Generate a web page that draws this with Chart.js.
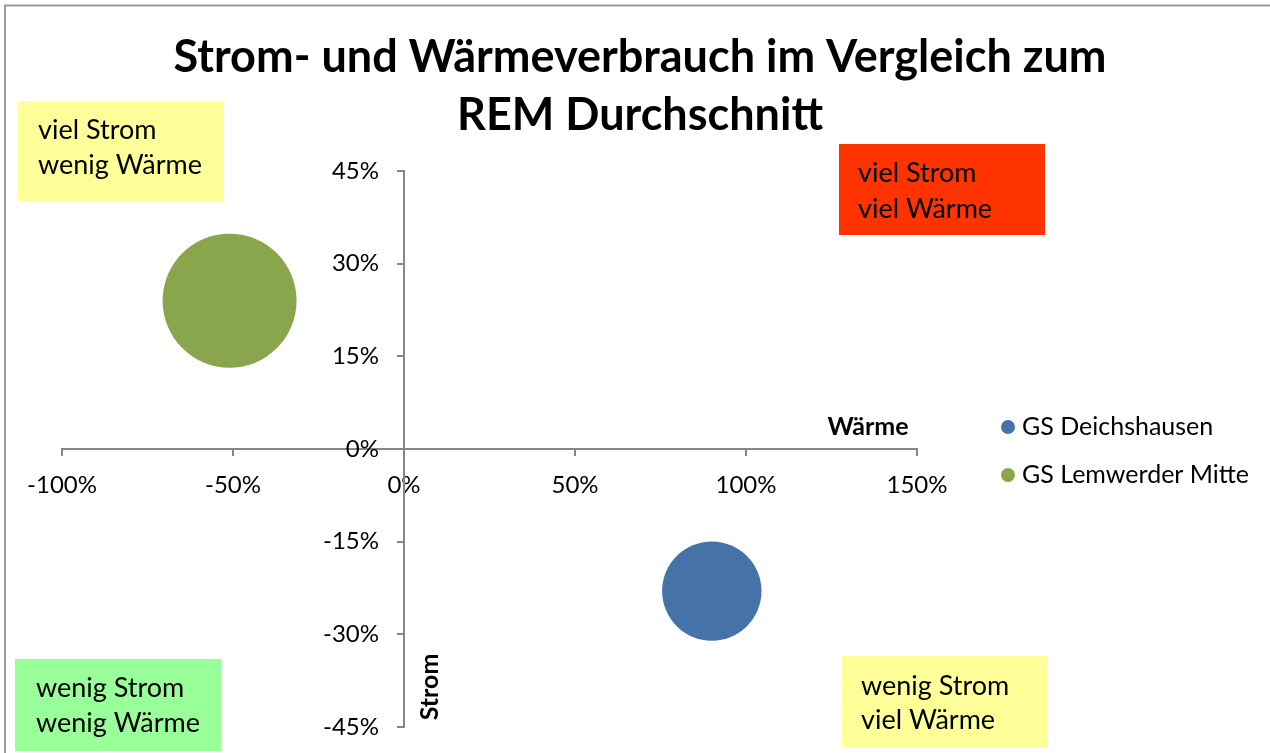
<!DOCTYPE html>
<html>
<head>
<meta charset="utf-8">
<script src="https://cdn.jsdelivr.net/npm/chart.js@4/dist/chart.umd.min.js"></script>
<style>
html,body{margin:0;padding:0;background:#fff;}
</style>
</head>
<body>
<canvas id="c" width="1270" height="753"></canvas>
<script>
// ---- data ----
const seriesNames = ['GS Deichshausen', 'GS Lemwerder Mitte'];
const waermeValues = [90, -51];      // x: Wärme, % vs. REM average
const stromValues = [-23, 24];       // y: Strom, % vs. REM average
const bubbleSizes = [55, 100];       // relative bubble size
const seriesColors = ['#4673A7', '#8AA64C'];
const xTicks = [-100, -50, 0, 50, 100, 150];
const yTicks = [-45, -30, -15, 0, 15, 30, 45];
const titleLines = ['Strom- und Wärmeverbrauch im Vergleich zum', 'REM Durchschnitt'];
const xAxisTitle = 'Wärme';
const yAxisTitle = 'Strom';
const quadrantLabels = [
  ['viel Strom', 'wenig Wärme'],
  ['viel Strom', 'viel Wärme'],
  ['wenig Strom', 'wenig Wärme'],
  ['wenig Strom', 'viel Wärme']
];

// ---- styles / layout ----
const FONT = 'Lato, Carlito, Calibri, sans-serif';
const MAX_R = 67;
const maxSize = Math.max(...bubbleSizes);
const PLOT = {left: 62, right: 917, top: 171, bottom: 727};

const datasets = seriesNames.map((name, i) => ({
  label: name,
  data: [{x: waermeValues[i], y: stromValues[i], r: MAX_R * Math.sqrt(bubbleSizes[i] / maxSize)}],
  backgroundColor: seriesColors[i],
  borderColor: seriesColors[i],
  borderWidth: 0
}));

const quadBoxes = [
  {x: 18, y: 101, w: 206, h: 100, fill: '#FFFF99', tx: 38, ty: [130, 165]},
  {x: 839, y: 144, w: 206, h: 91, fill: '#FF3300', tx: 858, ty: [173, 209]},
  {x: 15, y: 659, w: 206, h: 92, fill: '#99FF99', tx: 36, ty: [688, 723]},
  {x: 842, y: 656, w: 205, h: 91, fill: '#FFFF99', tx: 861, ty: [686, 720]}
];

function shiftLabels(scale, dx, dy) {
  if (scale.__shifted) return;
  const orig = scale._computeLabelItems;
  scale._computeLabelItems = function (ca) {
    const items = orig.call(this, ca);
    items.forEach(it => {
      const t = it.options.translation;
      it.options.translation = [t[0] + dx, t[1] + dy];
    });
    return items;
  };
  scale._labelItems = null;
  scale.__shifted = true;
}

const decor = {
  id: 'decor',
  beforeDraw(chart) {
    shiftLabels(chart.scales.x, 0, 16);
    shiftLabels(chart.scales.y, -25, 0);
    const ctx = chart.ctx;
    ctx.save();
    ctx.fillStyle = '#fff';
    ctx.fillRect(0, 0, chart.width, chart.height);
    ctx.strokeStyle = '#9a9a9a';
    ctx.lineWidth = 2;
    ctx.beginPath();
    ctx.moveTo(5, 760); ctx.lineTo(5, 5.5); ctx.lineTo(1280, 5.5);
    ctx.stroke();
    ctx.font = '27px ' + FONT;
    ctx.textBaseline = 'middle';
    ctx.textAlign = 'left';
    quadBoxes.forEach((b, i) => {
      ctx.fillStyle = b.fill;
      ctx.fillRect(b.x, b.y, b.w, b.h);
      ctx.fillStyle = '#000';
      quadrantLabels[i].forEach((t, j) => ctx.fillText(t, b.tx, b.ty[j]));
    });
    ctx.font = 'bold 45px ' + FONT;
    ctx.textAlign = 'center';
    ctx.fillText(titleLines[0], 640, 57);
    ctx.fillText(titleLines[1], 640, 115);
    ctx.restore();
  },
  afterDraw(chart) {
    const ctx = chart.ctx;
    ctx.save();
    ctx.fillStyle = '#000';
    ctx.font = 'bold 25px ' + FONT;
    ctx.textAlign = 'center';
    ctx.textBaseline = 'middle';
    ctx.fillText(xAxisTitle, 868, 427);
    ctx.save();
    ctx.translate(430, 687);
    ctx.rotate(-Math.PI / 2);
    ctx.fillText(yAxisTitle, 0, 0);
    ctx.restore();
    ctx.font = '25px ' + FONT;
    ctx.textAlign = 'left';
    chart.data.datasets.forEach((ds, i) => {
      const y = 427 + i * 48;
      ctx.fillStyle = ds.backgroundColor;
      ctx.beginPath();
      ctx.arc(1008, y, 7, 0, Math.PI * 2);
      ctx.fill();
      ctx.fillStyle = '#000';
      ctx.fillText(ds.label, 1022, y);
    });
    ctx.restore();
  }
};

const axisColor = '#868686';
const chart = new Chart(document.getElementById('c'), {
  type: 'bubble',
  data: {datasets},
  options: {
    responsive: false,
    animation: false,
    events: [],
    layout: {autoPadding: false, padding: {left: PLOT.left, right: 1270 - PLOT.right, top: PLOT.top, bottom: 753 - PLOT.bottom}},
    plugins: {legend: {display: false}, title: {display: false}, tooltip: {enabled: false}},
    scales: {
      x: {
        type: 'linear', min: xTicks[0], max: xTicks[xTicks.length - 1],
        position: {y: 0},
        afterBuildTicks: s => { s.ticks = xTicks.map(v => ({value: v})); },
        ticks: {callback: v => v + '%', font: {family: FONT, size: 24}, color: '#000', padding: 0, maxRotation: 0, autoSkip: false},
        grid: {display: true, drawOnChartArea: false, drawTicks: true, tickLength: 6, color: axisColor, lineWidth: 2},
        border: {display: true, color: axisColor, width: 2}
      },
      y: {
        type: 'linear', min: yTicks[0], max: yTicks[yTicks.length - 1],
        position: {x: 0},
        afterBuildTicks: s => { s.ticks = yTicks.map(v => ({value: v})); },
        ticks: {callback: v => v + '%', font: {family: FONT, size: 24}, color: '#000', padding: 0, autoSkip: false},
        grid: {display: true, drawOnChartArea: false, drawTicks: true, tickLength: 6, color: axisColor, lineWidth: 2},
        border: {display: true, color: axisColor, width: 2}
      }
    }
  },
  plugins: [decor]
});
</script>
</body>
</html>
